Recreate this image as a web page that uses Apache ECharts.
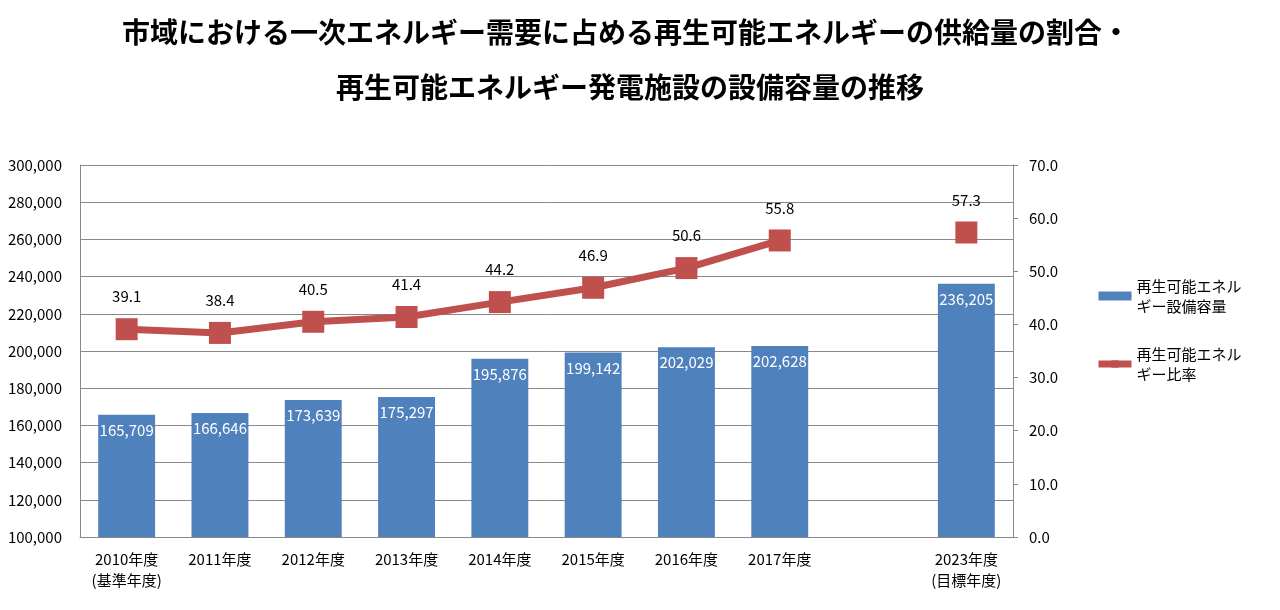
<!DOCTYPE html>
<html><head><meta charset="utf-8">
<script src="https://cdn.jsdelivr.net/npm/echarts@6/dist/echarts.min.js"></script>
<style>html,body{margin:0;padding:0;background:#fff}#c{width:1280px;height:610px}</style>
</head><body><div id="c"></div>
<script>
const categories = ['2010年度\n(基準年度)','2011年度','2012年度','2013年度','2014年度','2015年度','2016年度','2017年度','','2023年度\n(目標年度)'];
const capacity = [165709,166646,173639,175297,195876,199142,202029,202628,null,236205];
const ratio = [39.1,38.4,40.5,41.4,44.2,46.9,50.6,55.8,null,57.3];
const titleLines = ['市域における一次エネルギー需要に占める再生可能エネルギーの供給量の割合・','再生可能エネルギー発電施設の設備容量の推移'];
const seriesNames = ['再生可能エネルギー設備容量','再生可能エネルギー比率'];
const legendLabels = {'再生可能エネルギー設備容量':'再生可能エネル\nギー設備容量','再生可能エネルギー比率':'再生可能エネル\nギー比率'};

const font = '"Noto Sans CJK JP", "Noto Sans", sans-serif';
const chart = echarts.init(document.getElementById('c'));
chart.setOption({
  animation:false,
  textStyle:{fontFamily:font},
  title:[
    {text:titleLines[0],left:117,top:13,textStyle:{fontSize:28,fontWeight:'bold',color:'#000',fontFamily:font}},
    {text:titleLines[1],left:331,top:68,textStyle:{fontSize:28,fontWeight:'bold',color:'#000',fontFamily:font}}
  ],
  legend:{
    orient:'vertical',left:1090,top:261,itemGap:8,itemWidth:33,itemHeight:9,
    textStyle:{fontSize:15,color:'#000',lineHeight:20,padding:[20,0,0,0]},
    formatter:n=>legendLabels[n]||n,
    data:[{name:seriesNames[0],icon:'rect'},{name:seriesNames[1],lineStyle:{width:7}}]
  },
  grid:{left:80,right:267,top:165,bottom:73},
  xAxis:{type:'category',data:categories,
    axisLine:{lineStyle:{color:'#888'}},axisTick:{show:false},
    axisLabel:{color:'#000',fontSize:15,lineHeight:21,margin:12,interval:0}},
  yAxis:[
    {type:'value',min:100000,max:300000,interval:20000,
      axisLine:{show:true,lineStyle:{color:'#888'}},axisTick:{show:false},
      splitLine:{lineStyle:{color:'#888'}},
      axisLabel:{color:'#000',fontSize:15,margin:18,formatter:v=>v.toLocaleString('en-US')}},
    {type:'value',min:0,max:70,interval:10,
      axisLine:{show:true,lineStyle:{color:'#888'}},axisTick:{show:true,length:5,lineStyle:{color:'#888'}},
      splitLine:{show:false},
      axisLabel:{color:'#000',fontSize:15,margin:16,formatter:v=>v.toFixed(1)}}
  ],
  series:[
    {name:seriesNames[0],type:'bar',data:capacity,barWidth:'61%',yAxisIndex:0,
      itemStyle:{color:'#4F81BD'},
      label:{show:true,position:'insideTop',distance:8,color:'#fff',fontSize:15,
        formatter:p=>p.value.toLocaleString('en-US')}},
    {name:seriesNames[1],type:'line',data:ratio,yAxisIndex:1,connectNulls:false,
      symbol:'rect',symbolSize:22,
      lineStyle:{color:'#C0504D',width:7},itemStyle:{color:'#C0504D'},
      label:{show:true,position:'top',distance:14,color:'#000',fontSize:15,
        formatter:p=>p.value.toFixed(1)}}
  ]
});
</script></body></html>
